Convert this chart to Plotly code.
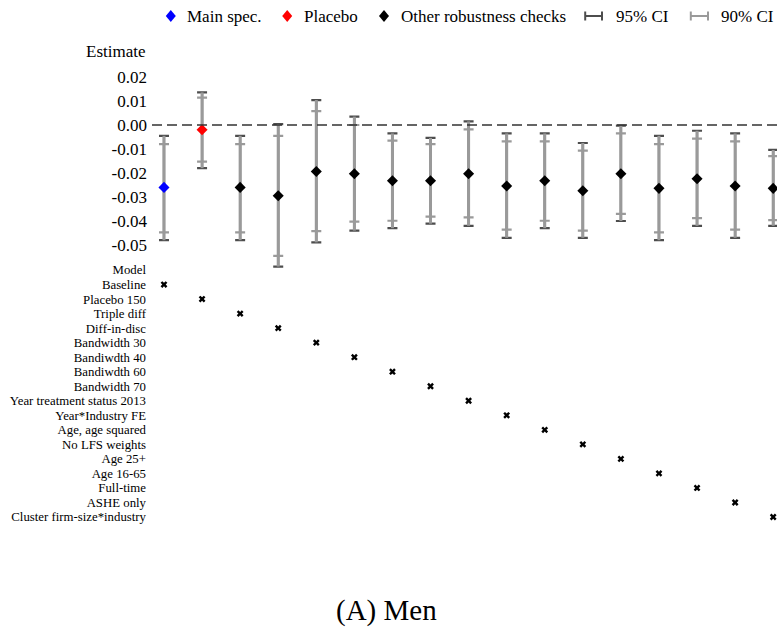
import plotly.graph_objects as go

W, H = 777, 629

models = ["Baseline", "Placebo 150", "Triple diff", "Diff-in-disc", "Bandwidth 30",
          "Bandiwdth 40", "Bandiwdth 60", "Bandwidth 70", "Year treatment status 2013",
          "Year*Industry FE", "Age, age squared", "No LFS weights", "Age 25+",
          "Age 16-65", "Full-time", "ASHE only", "Cluster firm-size*industry"]
estimate = [-0.026, -0.002, -0.026, -0.0295, -0.0194, -0.0203, -0.0232, -0.0232, -0.0203,
            -0.0254, -0.0232, -0.0274, -0.0203, -0.0264, -0.0224, -0.0254, -0.0264]
hi95 = [-0.0045, 0.0136, -0.0045, 0.0004, 0.0104, 0.0035, -0.0035, -0.0054, 0.0015,
        -0.0035, -0.0035, -0.0075, -0.0003, -0.0045, -0.0024, -0.0035, -0.0104]
lo95 = [-0.048, -0.018, -0.048, -0.059, -0.0489, -0.044, -0.043, -0.0411, -0.042,
        -0.047, -0.043, -0.047, -0.040, -0.048, -0.042, -0.047, -0.042]
hi90 = [-0.008, 0.0114, -0.008, -0.0045, 0.0058, 0.000, -0.0065, -0.008, -0.0018,
        -0.0068, -0.0068, -0.0107, -0.0035, -0.008, -0.0057, -0.0068, -0.013]
lo90 = [-0.0447, -0.0153, -0.0447, -0.0545, -0.0442, -0.0403, -0.0399, -0.0382, -0.0385,
        -0.0436, -0.0399, -0.044, -0.037, -0.0447, -0.0388, -0.0436, -0.0396]
spec_type = ["main", "placebo"] + ["other"] * 15

y_tickvals = [0.02, 0.01, 0.0, -0.01, -0.02, -0.03, -0.04, -0.05]
y_ticktext = ["0.02", "0.01", "0.00", "-0.01", "-0.02", "-0.03", "-0.04", "-0.05"]
legend_labels = ["Main spec.", "Placebo", "Other robustness checks", "95% CI", "90% CI"]

FONT = "Liberation Serif"
DARK = "#4d4d4d"
LIGHT = "#9a9a9a"
colors = {"main": "#0000ff", "placebo": "#ff0000", "other": "#000000"}

xs = list(range(len(models)))

def py(p):
    return 1 - p / H

def px(p):
    return p / W

fig = go.Figure()

# 95% CI (dark caps)
fig.add_trace(go.Scatter(
    x=xs, y=estimate, mode="markers", marker=dict(size=1, opacity=0),
    error_y=dict(type="data", symmetric=False,
                 array=[h - e for h, e in zip(hi95, estimate)],
                 arrayminus=[e - l for e, l in zip(estimate, lo95)],
                 color=DARK, thickness=2.2, width=5),
    showlegend=False, hoverinfo="skip"))
# light stem over full 95% range
fig.add_trace(go.Scatter(
    x=xs, y=estimate, mode="markers", marker=dict(size=1, opacity=0),
    error_y=dict(type="data", symmetric=False,
                 array=[h - e for h, e in zip(hi95, estimate)],
                 arrayminus=[e - l for e, l in zip(estimate, lo95)],
                 color=LIGHT, thickness=3, width=0),
    showlegend=False, hoverinfo="skip"))
# 90% CI (light caps)
fig.add_trace(go.Scatter(
    x=xs, y=estimate, mode="markers", marker=dict(size=1, opacity=0),
    error_y=dict(type="data", symmetric=False,
                 array=[h - e for h, e in zip(hi90, estimate)],
                 arrayminus=[e - l for e, l in zip(estimate, lo90)],
                 color=LIGHT, thickness=2.2, width=5),
    showlegend=False, hoverinfo="skip"))
# point estimates
fig.add_trace(go.Scatter(
    x=xs, y=estimate, mode="markers",
    marker=dict(symbol="diamond", size=8.5, color=[colors[t] for t in spec_type],
                line=dict(width=0)),
    showlegend=False, cliponaxis=False))

# model indicator panel
fig.add_trace(go.Scatter(
    x=xs, y=[i + 1 for i in xs], mode="markers", xaxis="x", yaxis="y2",
    marker=dict(symbol="x", size=6, color="black", line=dict(width=0)),
    showlegend=False, cliponaxis=False))

top_px, bot_px = 60, 272
zero_px, per = 125, 2400.0
y_range = [-(bot_px - zero_px) / per, (zero_px - top_px) / per]

row0, rowstep = 270, 14.53
b_top = row0 - rowstep / 2
b_bot = row0 + 17 * rowstep + rowstep / 2

fig.update_layout(
    width=W, height=H,
    margin=dict(l=0, r=0, t=0, b=0),
    paper_bgcolor="white", plot_bgcolor="rgba(0,0,0,0)",
    font=dict(family=FONT, color="black"),
    xaxis=dict(domain=[152 / W, 1], range=[-0.315, 16.1], showgrid=False, zeroline=False,
               showticklabels=False, showline=False, ticks=""),
    yaxis=dict(domain=[py(bot_px), py(top_px)], range=y_range, showgrid=False, zeroline=False,
               showline=False, ticks="", tickvals=y_tickvals, ticktext=y_ticktext,
               tickfont=dict(size=17, family=FONT), ticklabelstandoff=4),
    yaxis2=dict(domain=[py(b_bot), py(b_top)], range=[17.5, -0.5], showgrid=False,
                zeroline=False, showline=False, ticks="",
                tickvals=list(range(len(models) + 1)), ticktext=["Model"] + models,
                tickfont=dict(size=12.8, family=FONT), ticklabelstandoff=5, anchor="x"),
    showlegend=False,
)

# zero reference line
fig.add_shape(type="line", xref="x domain", yref="y", x0=0, x1=1, y0=0, y1=0,
              line=dict(color="#333333", width=1.5, dash="10px,5px"))

# "Estimate" axis label
fig.add_annotation(x=px(147), y=py(52), xref="paper", yref="paper", text="Estimate",
                   showarrow=False, xanchor="right", yanchor="middle",
                   font=dict(size=17, family=FONT))

# Legend (manual)
ly = 16
for cx, col in [(170.8, colors["main"]), (287.2, colors["placebo"]), (384, colors["other"])]:
    path = (f"M {px(cx-5)},{py(ly)} L {px(cx)},{py(ly-6)} L {px(cx+5)},{py(ly)} "
            f"L {px(cx)},{py(ly+6)} Z")
    fig.add_shape(type="path", xref="paper", yref="paper", path=path,
                  fillcolor=col, line=dict(width=0))
for x0, x1, col in [(585.2, 602, DARK), (690.8, 708, LIGHT)]:
    fig.add_shape(type="line", xref="paper", yref="paper", x0=px(x0), x1=px(x1),
                  y0=py(ly), y1=py(ly), line=dict(color=col, width=2))
    for xc in (x0, x1):
        fig.add_shape(type="line", xref="paper", yref="paper", x0=px(xc), x1=px(xc),
                      y0=py(ly - 4.5), y1=py(ly + 4.5), line=dict(color=col, width=2))
for tx, lab in zip([185.2, 302, 398.8, 614, 719.2], legend_labels):
    fig.add_annotation(x=px(tx), y=py(ly), xref="paper", yref="paper", text=lab,
                       showarrow=False, xanchor="left", yanchor="middle",
                       font=dict(size=17, family=FONT))

# Panel title
fig.add_annotation(x=px(386), y=py(610), xref="paper", yref="paper", text="(A) Men",
                   showarrow=False, xanchor="center", yanchor="middle",
                   font=dict(size=29, family=FONT))

fig.write_html("out.html")
